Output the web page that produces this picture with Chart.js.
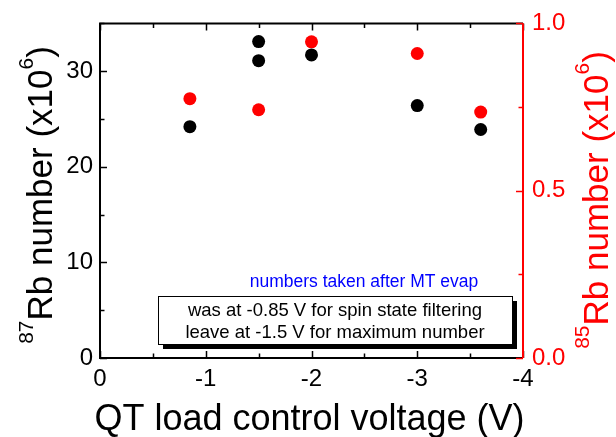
<!DOCTYPE html>
<html><head><meta charset="utf-8">
<script src="https://cdn.jsdelivr.net/npm/chart.js@4.4.1/dist/chart.umd.min.js"></script>
<style>html,body{margin:0;padding:0;background:#fff}#wrap{width:616px;height:437px}</style>
</head><body><div id="wrap"><canvas id="c" width="616" height="437"></canvas></div>
<script>
// ---- data ----
const voltage87 = [-0.85, -1.5, -1.5, -2, -3, -3.6];
const rb87 = [24.2, 33.1, 31.1, 31.7, 26.4, 23.9];
const voltage85 = [-0.85, -1.5, -2, -3, -3.6];
const rb85 = [0.775, 0.742, 0.945, 0.910, 0.735];
const xTickValues = [0, -1, -2, -3, -4];
const yLeftTicks = [0, 10, 20, 30];
const yRightTicks = [0.0, 0.5, 1.0];
const noteTop = "numbers taken after MT evap";
const noteBox = ["was at -0.85 V for spin state filtering", "leave at -1.5 V for maximum number"];

const FONT = "'Liberation Sans', Arial, sans-serif";
const pts = (xs, ys) => xs.map((x, i) => ({x, y: ys[i]}));

const L = 100, R = 523, T = 18, B = 358;

const framePlugin = {
  id: 'frame',
  afterDraw(chart) {
    const {ctx, chartArea: a, scales} = chart;
    const sx = scales.x, sy = scales.y, sy2 = scales.y2;
    ctx.save();
    ctx.lineWidth = 2;
    ctx.strokeStyle = '#000';
    ctx.beginPath();
    ctx.moveTo(a.right, a.top); ctx.lineTo(a.left, a.top); ctx.lineTo(a.left, a.bottom); ctx.lineTo(a.right, a.bottom);
    ctx.stroke();
    ctx.lineWidth = 1.5;
    for (let v = 0; v >= -4.001; v -= 0.5) {
      const px = Math.round(sx.getPixelForValue(v)) + 0.5;
      const len = Math.abs(v % 1) < 1e-6 ? 7 : 4.5;
      ctx.beginPath();
      ctx.moveTo(px, a.bottom); ctx.lineTo(px, a.bottom - len);
      ctx.moveTo(px, a.top); ctx.lineTo(px, a.top + len);
      ctx.stroke();
    }
    for (let v = 0; v <= 35.001; v += 5) {
      const py = Math.round(sy.getPixelForValue(v)) + 0.5;
      const len = (v % 10 === 0) ? 7 : 4.5;
      ctx.beginPath(); ctx.moveTo(a.left, py); ctx.lineTo(a.left + len, py); ctx.stroke();
    }
    ctx.strokeStyle = '#ff0000';
    ctx.lineWidth = 2;
    ctx.beginPath(); ctx.moveTo(a.right, a.top); ctx.lineTo(a.right, a.bottom); ctx.stroke();
    ctx.lineWidth = 1.5;
    for (let v = 0; v <= 1.0001; v += 0.25) {
      const py = Math.round(sy2.getPixelForValue(v)) + 0.5;
      const len = (Math.abs((v * 2) % 1) < 1e-6) ? 7 : 4.5;
      ctx.beginPath(); ctx.moveTo(a.right, py); ctx.lineTo(a.right - len, py); ctx.stroke();
    }

    ctx.textBaseline = 'alphabetic';
    ctx.fillStyle = '#000';
    ctx.font = `36px ${FONT}`;
    ctx.textAlign = 'center';
    ctx.fillText('QT load control voltage (V)', (a.left + a.right) / 2 - 2, 430);

    function yTitle(x, cy, color, sup) {
      const big = `35px ${FONT}`, small = `21px ${FONT}`;
      ctx.save();
      ctx.translate(x, cy);
      ctx.rotate(-Math.PI / 2);
      ctx.fillStyle = color;
      ctx.font = small; const w1 = ctx.measureText(sup).width;
      ctx.font = big; const w2 = ctx.measureText('Rb number (x10').width;
      ctx.font = small; const w3 = ctx.measureText('6').width;
      ctx.font = big; const w4 = ctx.measureText(')').width;
      let cx = -(w1 + w2 + w3 + w4) / 2;
      ctx.textAlign = 'left';
      ctx.font = small; ctx.fillText(sup, cx, -19); cx += w1;
      ctx.font = big; ctx.fillText('Rb number (x10', cx, 0); cx += w2;
      ctx.font = small; ctx.fillText('6', cx, -19); cx += w3;
      ctx.font = big; ctx.fillText(')', cx, 0);
      ctx.restore();
    }
    yTitle(52, 195, '#000', '87');
    yTitle(608, 200, '#ff0000', '85');

    ctx.fillStyle = '#0000ff';
    ctx.font = `17.5px ${FONT}`;
    ctx.textAlign = 'center';
    ctx.fillText(noteTop, 364, 287);
    const bx = 158, by = 296, bw = 354, bh = 48;
    ctx.fillStyle = '#000';
    ctx.fillRect(bx + 5, by + 5, bw, bh);
    ctx.fillStyle = '#fff';
    ctx.fillRect(bx, by, bw, bh);
    ctx.strokeStyle = '#000'; ctx.lineWidth = 1;
    ctx.strokeRect(bx + 0.5, by + 0.5, bw, bh);
    ctx.fillStyle = '#000';
    ctx.font = `18.5px ${FONT}`;
    ctx.fillText(noteBox[0], bx + bw / 2, by + 20);
    ctx.fillText(noteBox[1], bx + bw / 2, by + 42);
    ctx.restore();
  }
};

new Chart(document.getElementById('c'), {
  type: 'scatter',
  data: {
    datasets: [
      {label: '87Rb', data: pts(voltage87, rb87), yAxisID: 'y', backgroundColor: '#000', borderWidth: 0, pointRadius: 6.5},
      {label: '85Rb', data: pts(voltage85, rb85), yAxisID: 'y2', backgroundColor: '#ff0000', borderWidth: 0, pointRadius: 6.5}
    ]
  },
  options: {
    responsive: false, animation: false, devicePixelRatio: 1,
    layout: {padding: {top: T, left: 0, right: 0, bottom: 0}},
    plugins: {legend: {display: false}, tooltip: {enabled: false}},
    scales: {
      x: {
        type: 'linear', position: 'bottom', reverse: true, min: -4, max: 0,
        afterBuildTicks: s => { s.ticks = xTickValues.map(v => ({value: v})); },
        ticks: {color: '#000', font: {size: 24, family: FONT}, padding: 7, maxRotation: 0,
          callback: v => String(v)},
        grid: {display: false, drawTicks: false}, border: {display: false},
        afterFit: s => { s.height = 437 - B; }
      },
      y: {
        position: 'left', min: 0, max: 35,
        afterBuildTicks: s => { s.ticks = yLeftTicks.map(v => ({value: v})); },
        ticks: {color: '#000', font: {size: 24, family: FONT}, padding: 7},
        grid: {display: false, drawTicks: false}, border: {display: false},
        afterFit: s => { s.width = L; }
      },
      y2: {
        position: 'right', min: 0, max: 1,
        afterBuildTicks: s => { s.ticks = yRightTicks.map(v => ({value: v})); },
        ticks: {color: '#ff0000', font: {size: 24, family: FONT}, padding: 9, callback: v => Number(v).toFixed(1)},
        grid: {display: false, drawTicks: false}, border: {display: false},
        afterFit: s => { s.width = 616 - R; }
      }
    }
  },
  plugins: [framePlugin]
});
</script></body></html>
